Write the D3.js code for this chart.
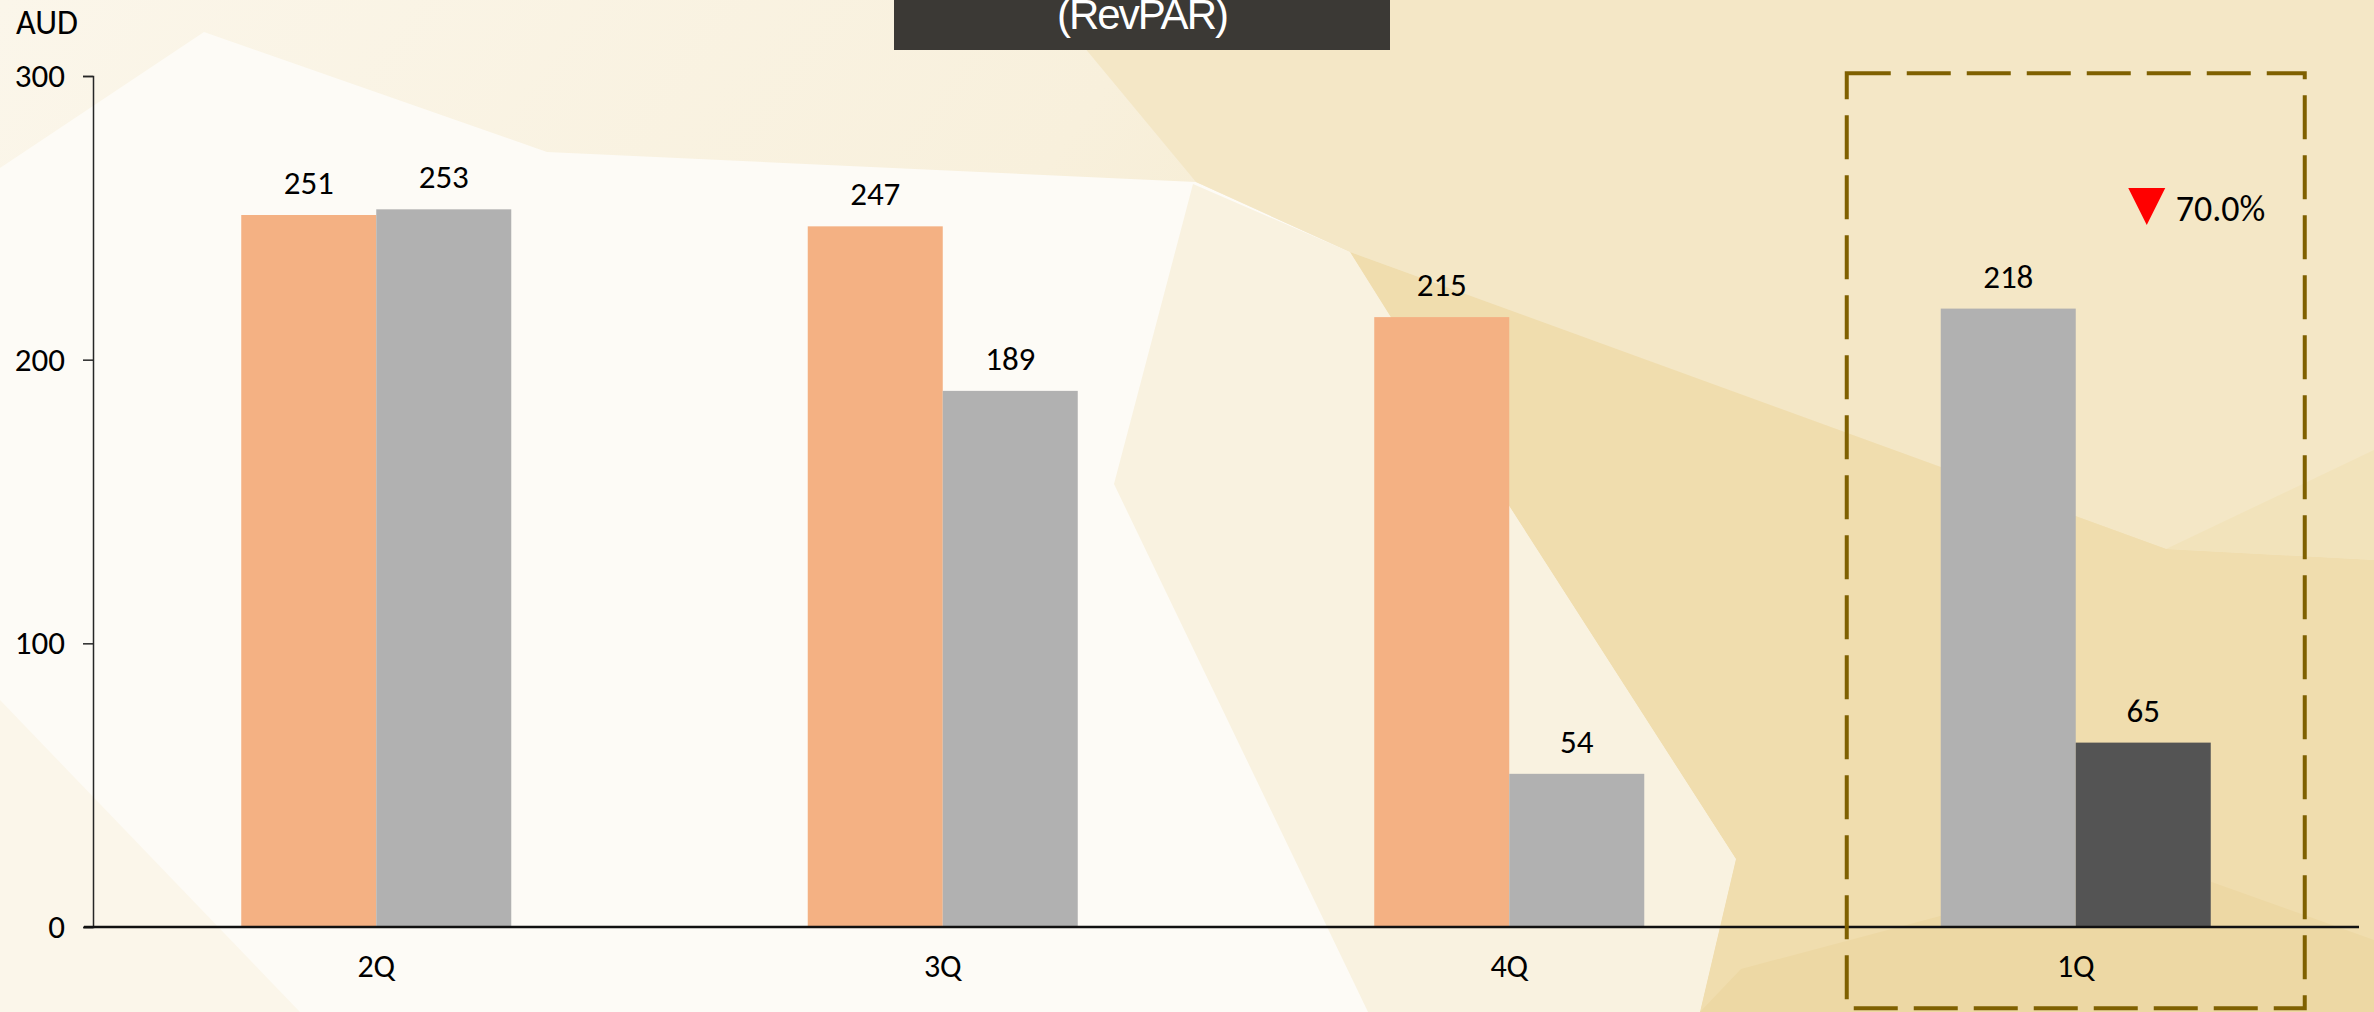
<!DOCTYPE html>
<html>
<head>
<meta charset="utf-8">
<script src="https://cdn.jsdelivr.net/npm/d3@7"></script>
<style>
  body { margin: 0; background: #fdfaf3; }
  svg { display: block; }
  .lbl { font-family: Carlito, Calibri, Lato, sans-serif; fill: #000; }
</style>
</head>
<body>
<div id="chart"></div>
<script>
// chart data
const categories = ["2Q", "3Q", "4Q", "1Q"];
const seriesPrev = [251, 247, 215, null];   // orange bars
const seriesLast = [253, 189, 54, 218];     // grey bars
const seriesNow = [null, null, null, 65];   // dark bar
const yTicks = [0, 100, 200, 300];
const unitLabel = "AUD";
const titleText = "(RevPAR)";
const changeText = "70.0%";

const W = 2374, H = 1012;
const colors = { prev: "#f4b183", last: "#b1b1b1", now: "#545454" };

const svg = d3.select("#chart").append("svg")
    .attr("width", W)
    .attr("height", H);

// background facets
const defs = svg.append("defs");
const grad = defs.append("linearGradient").attr("id", "bg")
    .attr("x1", "0%").attr("x2", "100%").attr("y1", "0%").attr("y2", "30%");
grad.append("stop").attr("offset", "0%").attr("stop-color", "#fbf6ea");
grad.append("stop").attr("offset", "45%").attr("stop-color", "#f8f0dc");
grad.append("stop").attr("offset", "100%").attr("stop-color", "#f1e0b4");
svg.append("rect").attr("width", W).attr("height", H).attr("fill", "url(#bg)");

const facets = [
    { fill: "#fdfbf6", pts: [[0, 168], [204, 32], [547, 152], [1196, 182], [1350, 252], [1508, 504], [1736, 859], [1700, 1012], [0, 1012]] },
    { fill: "#fbf6ea", pts: [[0, 700], [300, 1012], [0, 1012]] },
    { fill: "#f9f2e0", pts: [[1193, 184], [1350, 252], [1508, 504], [1736, 859], [1700, 1012], [1368, 1012], [1114, 484]] },
    { fill: "#f4e7c6", pts: [[1045, 0], [2374, 0], [2374, 560], [2166, 549], [1350, 252], [1196, 182]] },
    { fill: "#f0ddae", pts: [[1350, 252], [2166, 549], [2374, 560], [2374, 1012], [1700, 1012], [1736, 859], [1508, 504]] },
    { fill: "#f2e3bb", pts: [[2166, 549], [2374, 450], [2374, 560]] },
    { fill: "#edd8a4", pts: [[1741, 969], [2150, 860], [2374, 940], [2374, 1012], [1700, 1012]] }
];
svg.append("g").selectAll("polygon")
    .data(facets)
    .join("polygon")
    .attr("points", d => d.pts.map(p => p.join(",")).join(" "))
    .attr("fill", d => d.fill);

// scales
const x = d3.scaleBand().domain(categories).range([93, 2359]);
const y = d3.scaleLinear().domain([0, 300]).range([927, 76]);
const barW = 135;
const slot = d3.scaleBand().domain([0, 1]).range([-barW, barW]);

// bars: in each quarter the non-empty series take the left then right slot
const bars = [];
categories.forEach((c, i) => {
    const vals = [
        { key: "prev", v: seriesPrev[i] },
        { key: "last", v: seriesLast[i] },
        { key: "now", v: seriesNow[i] }
    ].filter(d => d.v != null);
    vals.forEach((d, j) => bars.push({ cat: c, key: d.key, v: d.v, slot: j }));
});

const barX = d => x(d.cat) + x.bandwidth() / 2 + slot(d.slot);

// y axis
const yAxis = svg.append("g")
    .attr("transform", "translate(93,0)")
    .call(d3.axisLeft(y).tickValues(yTicks).tickSize(10).tickPadding(18));
yAxis.selectAll("path, line").attr("stroke", "#262626").attr("stroke-width", 1.5);
yAxis.selectAll("text").attr("class", "lbl").style("font-size", "33px");

svg.selectAll(".bar")
    .data(bars)
    .join("rect")
    .attr("class", "bar")
    .attr("x", barX)
    .attr("width", slot.bandwidth())
    .attr("y", d => y(d.v))
    .attr("height", d => y(0) - y(d.v))
    .attr("fill", d => colors[d.key]);

svg.selectAll(".val")
    .data(bars)
    .join("text")
    .attr("class", "lbl val")
    .attr("x", d => barX(d) + slot.bandwidth() / 2)
    .attr("y", d => y(d.v) - 21)
    .attr("text-anchor", "middle")
    .style("font-size", "33px")
    .text(d => d.v);

// x axis
const xAxis = svg.append("g")
    .attr("transform", `translate(0,${y(0)})`)
    .call(d3.axisBottom(x).tickSize(0).tickPadding(27));
xAxis.select(".domain").remove();
xAxis.selectAll("text").attr("class", "lbl").style("font-size", "32px");
svg.append("line")
    .attr("x1", x.range()[0] - 9).attr("x2", x.range()[1])
    .attr("y1", y(0)).attr("y2", y(0))
    .attr("stroke", "#111").attr("stroke-width", 2.5);

// unit label
svg.append("text")
    .attr("class", "lbl")
    .attr("x", 16).attr("y", 34)
    .style("font-size", "34px")
    .text(unitLabel);

// title box (cut at top)
svg.append("rect")
    .attr("x", 894).attr("y", 0)
    .attr("width", 496).attr("height", 50)
    .attr("fill", "#3b3935");
svg.append("text")
    .attr("x", 1142).attr("y", 29)
    .attr("text-anchor", "middle")
    .style("font-family", "'Liberation Sans Narrow', 'Liberation Sans', Arial, sans-serif")
    .style("font-size", "42px")
    .style("letter-spacing", "-2px")
    .attr("fill", "#fff")
    .text(titleText);

// highlight box around latest quarter
const hiCx = x("1Q") + x.bandwidth() / 2;
svg.append("rect")
    .attr("x", hiCx - 229).attr("y", y(301))
    .attr("width", 458).attr("height", 935)
    .attr("fill", "none")
    .attr("stroke", "#7f6000")
    .attr("stroke-width", 4)
    .attr("stroke-dasharray", "44,16");

// change marker
const triX = hiCx + 71, triY = 188;
svg.append("path")
    .attr("d", `M${triX - 18.5},${triY}L${triX + 18.5},${triY}L${triX},${triY + 37}Z`)
    .attr("fill", "#ff0000");
svg.append("text")
    .attr("class", "lbl")
    .attr("x", triX + 29).attr("y", 221)
    .style("font-size", "36px")
    .text(changeText);
</script>
</body>
</html>
